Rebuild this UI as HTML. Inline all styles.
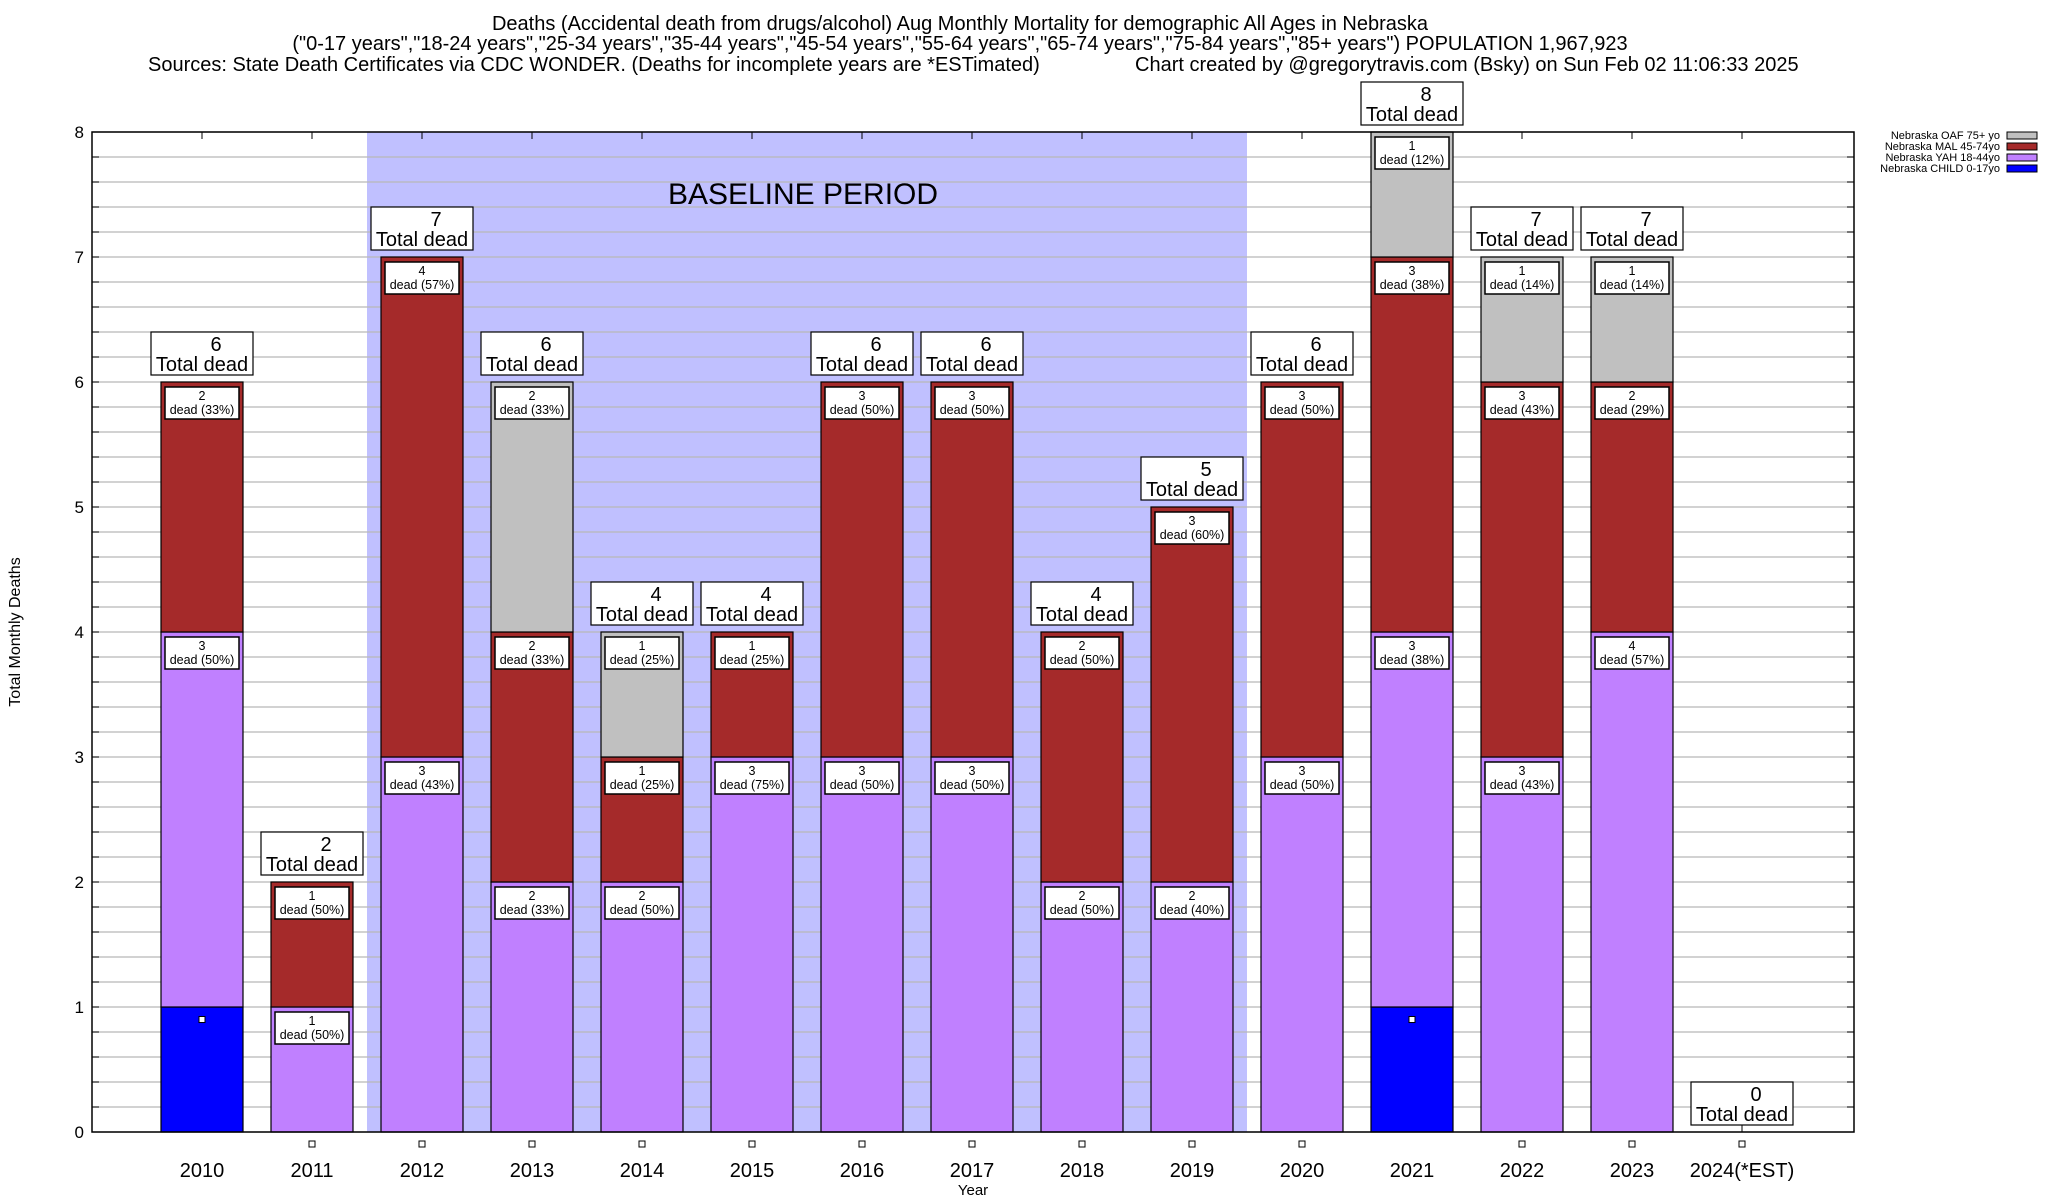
<!DOCTYPE html>
<html><head><meta charset="utf-8"><style>
body{margin:0;background:#fff;}
svg{display:block;font-family:"Liberation Sans",Arial,sans-serif;}
</style></head><body>
<svg id="chart" width="2048" height="1200" viewBox="0 0 2048 1200" xmlns="http://www.w3.org/2000/svg">
<g font-size="20">
<text x="960" y="30" text-anchor="middle">Deaths (Accidental death from drugs/alcohol) Aug Monthly Mortality for demographic All Ages in Nebraska</text>
<text x="960" y="50" text-anchor="middle">("0-17 years","18-24 years","25-34 years","35-44 years","45-54 years","55-64 years","65-74 years","75-84 years","85+ years") POPULATION 1,967,923</text>
<text x="148" y="71">Sources: State Death Certificates via CDC WONDER. (Deaths for incomplete years are *ESTimated)</text>
<text x="1135" y="71">Chart created by @gregorytravis.com (Bsky) on Sun Feb 02 11:06:33 2025</text>
</g>
<g id="plot"></g>
<text x="20" y="632" font-size="16" text-anchor="middle" transform="rotate(-90 20 632)">Total Monthly Deaths</text>
<text x="973" y="1195" font-size="15" text-anchor="middle">Year</text>
<g font-size="11" text-anchor="end">
<text x="2000" y="139">Nebraska OAF 75+ yo</text><rect x="2007" y="132" width="30" height="7" fill="#c0c0c0" stroke="#000"/>
<text x="2000" y="150">Nebraska MAL 45-74yo</text><rect x="2007" y="143" width="30" height="7" fill="#a52a2a" stroke="#000"/>
<text x="2000" y="161">Nebraska YAH 18-44yo</text><rect x="2007" y="154" width="30" height="7" fill="#c080ff" stroke="#000"/>
<text x="2000" y="172">Nebraska CHILD 0-17yo</text><rect x="2007" y="165" width="30" height="7" fill="#0000ff" stroke="#000"/>
</g>
</svg>
<script>
const years = ["2010","2011","2012","2013","2014","2015","2016","2017","2018","2019","2020","2021","2022","2023","2024(*EST)"];
const child = [1,0,0,0,0,0,0,0,0,0,0,1,0,0,0];
const yah   = [3,1,3,2,2,3,3,3,2,2,3,3,3,4,0];
const mal   = [2,1,4,2,1,1,3,3,2,3,3,3,3,2,0];
const oaf   = [0,0,0,2,1,0,0,0,0,0,0,1,1,1,0];
const yTicks = [0,1,2,3,4,5,6,7,8];
const baselineStart = 1.5, baselineEnd = 9.5;

const NS = "http://www.w3.org/2000/svg";
const L = 92, R = 1854, T = 132, B = 1132;
const xS = i => 202 + 110 * i;
const yS = v => B - (v / 8) * (B - T);
const g = document.getElementById('plot');
function el(tag, attrs, parent) {
  const e = document.createElementNS(NS, tag);
  for (const k in attrs) e.setAttribute(k, attrs[k]);
  (parent || g).appendChild(e);
  return e;
}
function rhe(x) { // round half to even
  const f = Math.floor(x), d = x - f;
  if (Math.abs(d - 0.5) < 1e-9) return f % 2 === 0 ? f : f + 1;
  return Math.round(x);
}
const sh = el('rect', {x: xS(baselineStart), y: T, width: xS(baselineEnd) - xS(baselineStart), height: B - T, fill: '#c0c0ff'});


const bt = el('text', {x: (xS(baselineStart) + xS(baselineEnd)) / 2 - 4, y: 204, 'font-size': 30, 'text-anchor': 'middle'});
bt.textContent = 'BASELINE PERIOD';


for (let v = 0; v <= 8.001; v += 0.2) {
  const y = yS(v);
  const gl = el('line', {x1: L, x2: R, y1: y, y2: y, stroke: '#b8b8b8', 'stroke-width': 1.3});
  
  
  el('line', {x1: L, x2: L + 7, y1: y, y2: y, stroke: '#000'});
  el('line', {x1: R, x2: R - 7, y1: y, y2: y, stroke: '#000'});
}
yTicks.forEach(v => {
  const t = el('text', {x: 84, y: yS(v) + 6, 'font-size': 17, 'text-anchor': 'end'});
  t.textContent = v;
  
  
});
const series = [
  {d: child, c: '#0000ff', label: false},
  {d: yah, c: '#c080ff', label: true},
  {d: mal, c: '#a52a2a', label: true},
  {d: oaf, c: '#c0c0c0', label: true}
];
const bw = 82;
years.forEach((yr, i) => {
  const x = xS(i);
  el('line', {x1: x, x2: x, y1: B, y2: B - 7, stroke: '#000'});
  el('line', {x1: x, x2: x, y1: T, y2: T + 7, stroke: '#000'});
  const total = child[i] + yah[i] + mal[i] + oaf[i];
  let base = 0;
  series.forEach(s => {
    const v = s.d[i];
    if (v > 0) {
      const r = el('rect', {x: x - bw / 2, y: yS(base + v), width: bw, height: yS(base) - yS(base + v), fill: s.c, stroke: '#000', 'stroke-width': 1.2});
      
      
      if (s.label) {
        const top = yS(base + v) + 5;
        const lb = el('rect', {x: x - 37, y: top, width: 74, height: 32, fill: '#fff', stroke: '#000', 'stroke-width': 1.5});
        
        
        const t1 = el('text', {x: x, y: top + 13, 'font-size': 12.5, 'text-anchor': 'middle'});
        t1.textContent = v;
        const t2 = el('text', {x: x, y: top + 27, 'font-size': 12.5, 'text-anchor': 'middle'});
        t2.textContent = 'dead (' + rhe(100 * v / total) + '%)';
      }
    }
    base += v;
  });
  const my = child[i] > 0 ? yS(child[i] - 0.1) : B + 12;
  const m = el('rect', {x: x - 3, y: my - 3, width: 6, height: 6, fill: '#fff', stroke: '#000', 'stroke-width': 1});
  
  
  const by = yS(total) - 7;
  const tb = el('rect', {x: x - 51, y: by - 43, width: 102, height: 43, fill: '#fff', stroke: '#000', 'stroke-width': 1.2});
  
  
  const a = el('text', {x: x + 14, y: by - 24, 'font-size': 20, 'text-anchor': 'middle'});
  a.textContent = total;
  const b = el('text', {x: x, y: by - 4, 'font-size': 20, 'text-anchor': 'middle'});
  b.textContent = 'Total dead';
  const xl = el('text', {x: x, y: B + 45, 'font-size': 20, 'text-anchor': 'middle'});
  xl.textContent = yr;
  
  
});
const fr = el('rect', {x: L, y: T, width: R - L, height: B - T, fill: 'none', stroke: '#000', 'stroke-width': 1.5});


</script>
</body></html>
